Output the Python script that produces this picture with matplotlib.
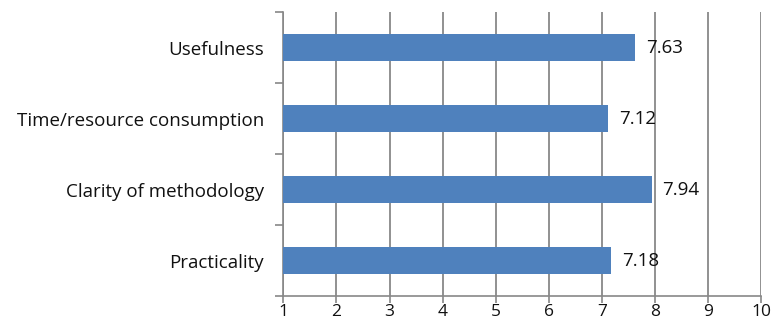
import matplotlib.pyplot as plt
import numpy as np

categories = ['Practicality', 'Clarity of methodology', 'Time/resource consumption', 'Usefulness']
scores = [7.18, 7.94, 7.12, 7.63]
xticks = [1, 2, 3, 4, 5, 6, 7, 8, 9, 10]

plt.rcParams['font.family'] = ['Open Sans', 'DejaVu Sans']

fig = plt.figure(figsize=(7.72, 3.24), dpi=100)
ax = fig.add_axes([0.367, 0.085, 0.619, 0.878])

y = np.arange(len(categories))
ax.barh(y, [s - 1 for s in scores], left=1, height=0.38, color='#4f81bd', zorder=3)
for yi, s in zip(y, scores):
    ax.text(s + 0.2, yi, '%.2f' % s, va='center', ha='left', fontsize=13.5, color='#111111', zorder=4)

ax.set_xlim(1, 10)
ax.set_ylim(-0.5, len(categories) - 0.5)
ax.set_xticks(xticks)
ax.set_yticks(y)
ax.set_yticklabels(categories, fontsize=13.5, color='#111111')
ax.set_yticks(np.arange(-0.5, len(categories)), minor=True)
ax.tick_params(axis='y', which='major', length=0, pad=14)
ax.tick_params(axis='y', which='minor', length=6, color='#888888', width=1.2)
ax.tick_params(axis='x', length=5, color='#888888', width=1.2, labelsize=12.5, labelcolor='#111111', pad=0.5)

ax.grid(axis='x', color='#888888', linewidth=1.3, zorder=0)
for side in ['top', 'right']:
    ax.spines[side].set_visible(False)
for side in ['left', 'bottom']:
    ax.spines[side].set_color('#888888')
    ax.spines[side].set_linewidth(1.2)

fig.savefig('out.png', dpi=100)
